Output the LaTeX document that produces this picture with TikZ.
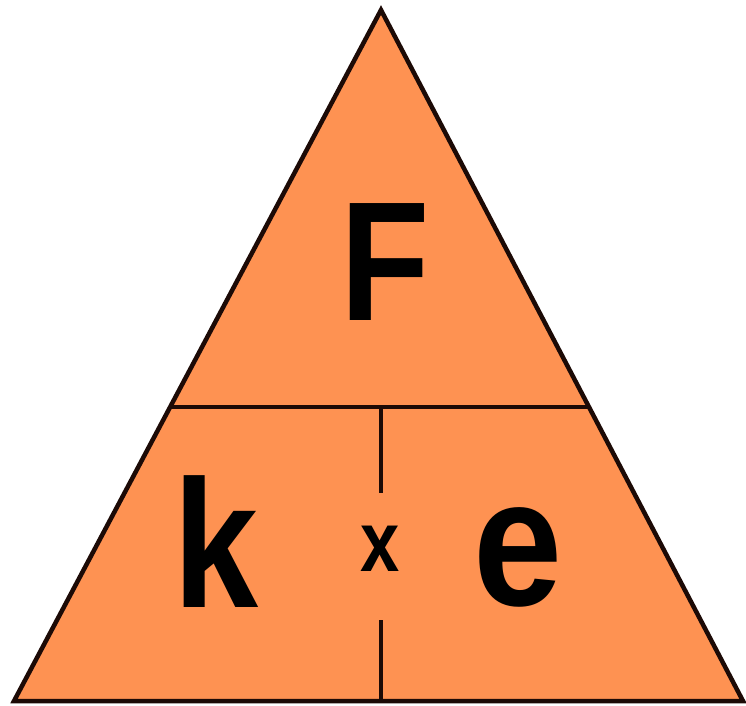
\documentclass[tikz,border=0pt]{standalone}
\usepackage{fontspec}
\setmainfont{Liberation Sans}
\definecolor{tri}{RGB}{254,146,82}
\definecolor{edge}{RGB}{28,10,6}
\begin{document}
\begin{tikzpicture}[x=1pt,y=-1pt,
  edgeline/.style={draw=edge,line width=4.5pt,line join=miter},
  bigletter/.style={anchor=base,inner sep=0pt,font=\bfseries\fontsize{182}{182}\selectfont},
  smalltimes/.style={anchor=base,inner sep=0pt,font=\bfseries\fontsize{86}{86}\selectfont}]
\useasboundingbox (0,0) rectangle (746,705);
\coordinate (apex) at (381,10);
\coordinate (bl) at (14,701);
\coordinate (br) at (743,701);
\coordinate (ml) at (172,407);
\coordinate (mr) at (588,407);
\coordinate (vt) at (381,407);
\coordinate (vb1) at (381,493);
\coordinate (vt2) at (381,620);
\coordinate (vb) at (381,701);
\fill[tri] (apex) -- (br) -- (bl) -- cycle;
\draw[edgeline] (apex) -- (br) -- (bl) -- cycle;
\draw[edgeline] (ml) -- (mr);
\draw[edgeline] (vt) -- (vb1);
\draw[edgeline] (vt2) -- (vb);
\node[bigletter,font=\bfseries\fontsize{170}{170}\selectfont] (F) at (385,320) {\scalebox{0.86}[1]{F}};
\node[bigletter] (k) at (216,607) {\scalebox{0.84}[1]{k}};
\node[bigletter] (e) at (518,605) {\scalebox{0.88}[1]{e}};
\node[smalltimes] (x) at (380,571) {\scalebox{0.82}[1]{x}};
\end{tikzpicture}
\end{document}
